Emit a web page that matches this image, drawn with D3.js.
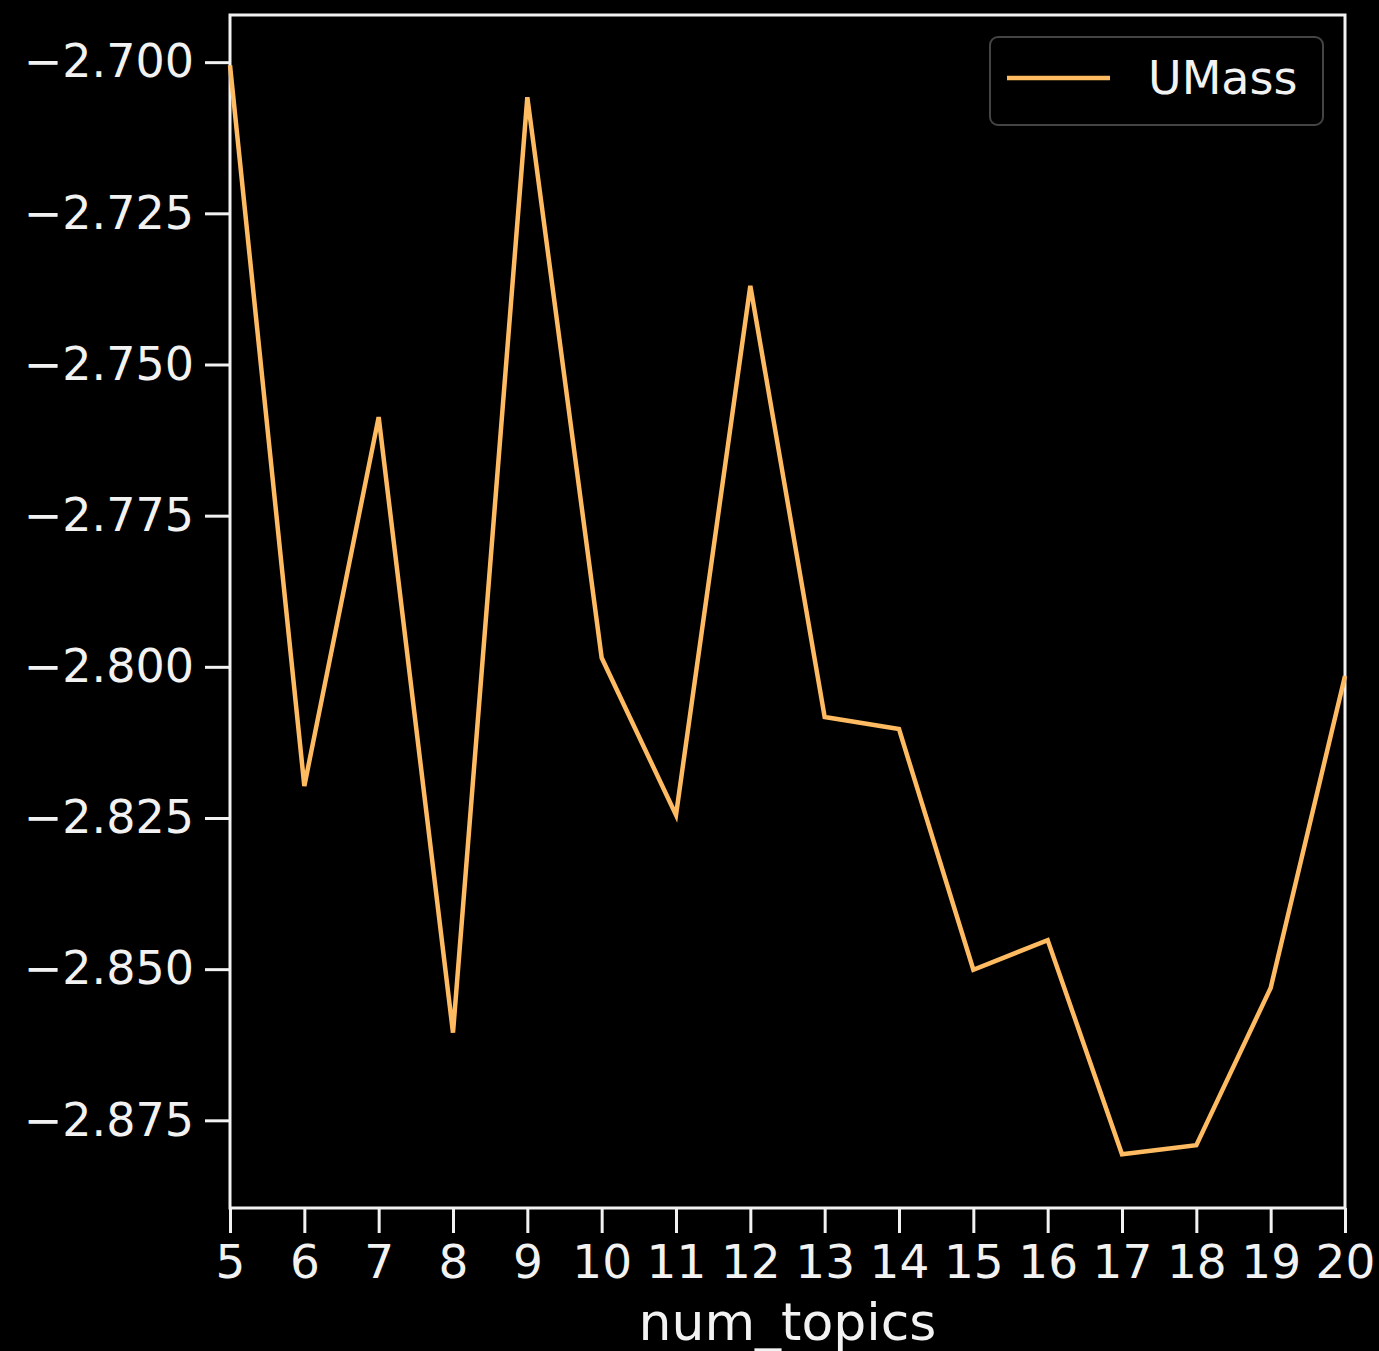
<!DOCTYPE html>
<html>
<head>
<meta charset="utf-8">
<script src="https://cdn.jsdelivr.net/npm/d3@7"></script>
<style>
  body { margin: 0; background: #000; }
  svg { display: block; }
  .axis text { font-family: "DejaVu Sans", sans-serif; fill: #f2f2f2; }
</style>
</head>
<body>
<div class="chart"></div>
<script>
// coherence score per number of topics
const numTopics = [5, 6, 7, 8, 9, 10, 11, 12, 13, 14, 15, 16, 17, 18, 19, 20];
const umass = [-2.7005, -2.8197, -2.7587, -2.8605, -2.7058, -2.7985, -2.8245, -2.7370,
               -2.8083, -2.8103, -2.8501, -2.8452, -2.8806, -2.8791, -2.8531, -2.8015];
const yTicks = [-2.700, -2.725, -2.750, -2.775, -2.800, -2.825, -2.850, -2.875];
const yLimits = [-2.8895, -2.6922];
const seriesName = 'UMass';
const xLabel = 'num_topics';

var margin = { top: 15, right: 34, bottom: 143, left: 230 },
    width = 1379 - margin.left - margin.right,
    height = 1351 - margin.top - margin.bottom;

var svg = d3.select('div.chart').append('svg')
    .attr('width', 1379)
    .attr('height', 1351)
    .style('background', '#000');

var g = svg.append('g')
    .attr('transform', `translate(${margin.left},${margin.top})`);

var x = d3.scaleLinear()
    .domain(d3.extent(numTopics))
    .range([0, width]);

var y = d3.scaleLinear()
    .domain(yLimits)
    .range([height, 0]);

var fmt = d3.format('.3f');

g.append('g')
    .attr('class', 'axis')
    .attr('transform', `translate(0,${height})`)
    .call(d3.axisBottom(x).tickValues(numTopics).tickSize(25).tickPadding(10))
    .call(a => a.selectAll('text').attr('font-size', 47).attr('dy', '0.74em'));

g.append('g')
    .attr('class', 'axis')
    .call(d3.axisLeft(y).tickValues(yTicks).tickSize(25).tickPadding(11)
        .tickFormat(d => fmt(d).replace('-', '\u2212')))
    .call(a => a.selectAll('text').attr('font-size', 46));

svg.selectAll('.axis path.domain').remove();
svg.selectAll('.axis line').attr('stroke', '#f2f2f2').attr('stroke-width', 3);

// frame
g.append('rect')
    .attr('x', 0).attr('y', 0)
    .attr('width', width).attr('height', height)
    .attr('fill', 'none')
    .attr('stroke', '#f2f2f2')
    .attr('stroke-width', 3);

var line = d3.line()
    .x((d, i) => x(numTopics[i]))
    .y(d => y(d));

g.append('path')
    .datum(umass)
    .attr('fill', 'none')
    .attr('stroke', '#ffbb62')
    .attr('stroke-width', 4.5)
    .attr('stroke-linejoin', 'miter')
    .attr('d', line);

// legend
var leg = svg.append('g').attr('transform', 'translate(990,37)');
leg.append('rect')
    .attr('width', 333).attr('height', 88)
    .attr('rx', 8)
    .attr('fill', '#000')
    .attr('stroke', '#444')
    .attr('stroke-width', 2);
leg.append('line')
    .attr('x1', 17).attr('x2', 120)
    .attr('y1', 41).attr('y2', 41)
    .attr('stroke', '#ffbb62')
    .attr('stroke-width', 4.5);
leg.append('text')
    .attr('x', 158).attr('y', 57)
    .attr('font-family', '"DejaVu Sans", sans-serif')
    .attr('font-size', 46)
    .attr('fill', '#f2f2f2')
    .text(seriesName);

svg.append('text')
    .attr('x', margin.left + width / 2)
    .attr('y', 1340)
    .attr('text-anchor', 'middle')
    .attr('font-family', '"DejaVu Sans", sans-serif')
    .attr('font-size', 52)
    .attr('fill', '#f2f2f2')
    .text(xLabel);
</script>
</body>
</html>
